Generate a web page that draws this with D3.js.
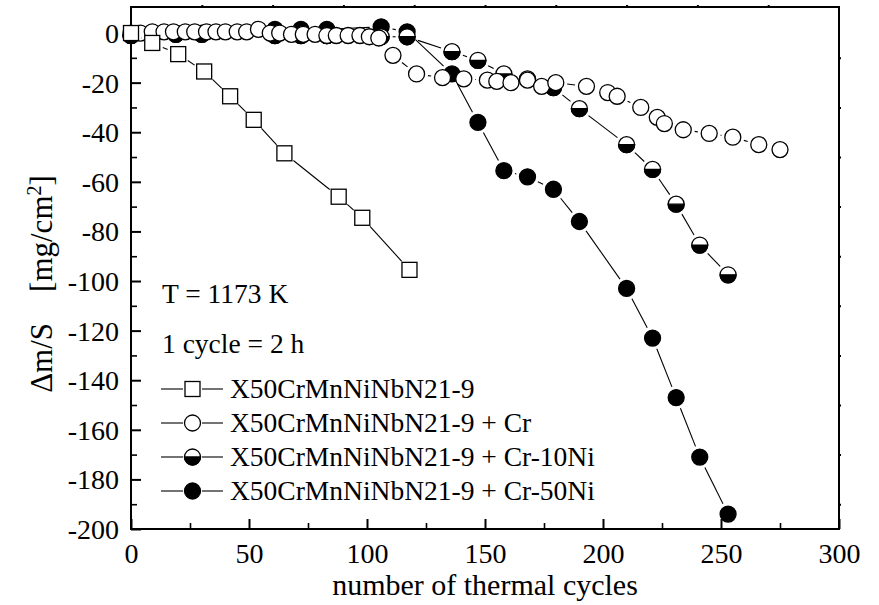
<!DOCTYPE html>
<html>
<head>
<meta charset="utf-8">
<script src="https://cdn.jsdelivr.net/npm/d3@7"></script>
<style>
  html, body { margin: 0; padding: 0; background: #fff; }
  svg { display: block; font-family: "Liberation Serif", "Times New Roman", serif; }
  svg text { font-family: "Liberation Serif", "Times New Roman", serif; fill: #000; }
</style>
</head>
<body>
<svg id="chart" width="879" height="605"></svg>
<script>
// ---------------- data ----------------
const seriesNames = [
  "X50CrMnNiNbN21-9",
  "X50CrMnNiNbN21-9 + Cr",
  "X50CrMnNiNbN21-9 + Cr-10Ni",
  "X50CrMnNiNbN21-9 + Cr-50Ni"
];
// X50CrMnNiNbN21-9 (open squares)
const baseX = [0, 9, 20, 31, 42, 52, 65, 88, 98, 118];
const baseY = [0, -4, -8.5, -15.5, -25.5, -35, -48.5, -66, -74.5, -95.5];
// + Cr (open circles)
const crX = [0, 4, 9, 14, 18, 23, 27, 32, 36, 40, 45, 49, 54, 59, 63, 68, 73, 78, 83, 87, 92, 97, 101, 105,
             111, 121, 132, 141, 151, 155, 161, 168, 174, 180, 193, 202, 206, 216, 223, 226, 234, 245, 255, 266, 275];
const crY = [0, 0, 0.5, 0.5, 0.5, 0.5, 0.5, 0.5, 0.5, 0.5, 0.5, 0.5, 1.5, 0, 0, -0.5, -0.5, -0.5, -1, -1, -1, -1, -1.5, -2,
             -9, -16.5, -18, -18.5, -19, -19.5, -20, -19, -21.5, -20, -21.5, -24, -25.5, -30, -34, -36.5, -39, -40.5, -42, -45, -47];
// + Cr-10Ni (half-filled circles)
const cr10X = [0, 9, 19, 30, 61, 72, 83, 106, 117, 136, 147, 158, 168, 179, 190, 210, 221, 231, 241, 253];
const cr10Y = [-1, -0.5, -0.5, -0.5, -1, -1, -1, -1.5, -1.5, -7.5, -11, -16.5, -18.5, -22, -30.5, -45, -55, -69, -85.5, -97.5];
// + Cr-50Ni (filled circles)
const cr50X = [0, 9, 19, 30, 61, 72, 83, 106, 117, 136, 147, 158, 168, 179, 190, 210, 221, 231, 241, 253];
const cr50Y = [-1, 0, 0, 0, 1.5, 1.5, 1.5, 2.5, 0.5, -16.5, -36, -55.5, -58, -63, -76, -103, -123, -147, -171, -194];

const xMajorTicks = [0, 50, 100, 150, 200, 250, 300];
const xMinorTicks = [25, 75, 125, 175, 225, 275];
const yMajorTicks = [0, -20, -40, -60, -80, -100, -120, -140, -160, -180, -200];
const yMinorTicks = [-10, -30, -50, -70, -90, -110, -130, -150, -170, -190];
const topTicks = [30, 60, 90, 120, 150, 180, 210, 240, 270];
const rightTicks = [-10, -30, -50, -70, -90, -110, -130, -150, -170, -190];
const noteLines = ["T = 1173 K", "1 cycle = 2 h"];
const xTitle = "number of thermal cycles";

// ---------------- layout ----------------
const L = 131, R = 839, T = 7, B = 529;
const svg = d3.select("#chart");
const x = d3.scaleLinear().domain([0, 300]).range([L, R]);
const y = d3.scaleLinear().domain([-200, 10.5]).range([B, T]);

const FS = 28;
const MR = 8;      // marker radius
const TRIM = 11.5; // line gap around markers
const SERIF = "Liberation Serif";

// axes
const gx = svg.append("g").attr("transform", `translate(0,${B})`)
  .call(d3.axisBottom(x).tickValues(xMajorTicks).tickSize(-10).tickPadding(14).tickFormat(d => String(d)));
const gxm = svg.append("g").attr("transform", `translate(0,${B})`)
  .call(d3.axisBottom(x).tickValues(xMinorTicks).tickSize(-6).tickFormat(""));
const gy = svg.append("g").attr("transform", `translate(${L},0)`)
  .call(d3.axisLeft(y).tickValues(yMajorTicks).tickSize(-10).tickPadding(12).tickFormat(d => String(d)));
const gym = svg.append("g").attr("transform", `translate(${L},0)`)
  .call(d3.axisLeft(y).tickValues(yMinorTicks).tickSize(-6).tickFormat(""));
const gt = svg.append("g").attr("transform", `translate(0,${T})`)
  .call(d3.axisTop(x).tickValues(topTicks).tickSize(2).tickFormat(""));
const gr = svg.append("g").attr("transform", `translate(${R},0)`)
  .call(d3.axisRight(y).tickValues(rightTicks).tickSize(2).tickFormat(""));

[gx, gxm, gy, gym, gt, gr].forEach(g => {
  g.attr("font-family", SERIF).attr("font-size", FS);
  g.select(".domain").remove();
  g.selectAll("line").attr("stroke", "#000").attr("stroke-width", 2);
  g.selectAll("text").attr("font-size", FS).attr("font-family", SERIF);
});
gxm.selectAll("line").attr("stroke-width", 1.6);
gym.selectAll("line").attr("stroke-width", 1.6);
gy.selectAll("text").attr("dy", "0.34em");

// frame
svg.append("rect").attr("x", L).attr("y", T).attr("width", R - L).attr("height", B - T)
  .attr("fill", "none").attr("stroke", "#000").attr("stroke-width", 2);

// axis titles
svg.append("text").attr("x", (L + R) / 2).attr("y", 595).attr("text-anchor", "middle")
  .attr("font-family", SERIF).attr("font-size", 30).text(xTitle);

const yt = svg.append("text").attr("transform", "translate(52,284) rotate(-90)")
  .attr("text-anchor", "middle").attr("font-family", SERIF).attr("font-size", 31)
  .attr("xml:space", "preserve").style("white-space", "pre");
yt.append("tspan").text("\u0394m/S\u00A0\u00A0\u00A0\u00A0[mg/cm");
yt.append("tspan").attr("baseline-shift", "super").attr("font-size", 20).text("2");
yt.append("tspan").text("]");

// ---------------- marks ----------------
function zipPts(xs, ys) { return xs.map((v, i) => ({ x: v, y: ys[i] })); }

function drawLines(g, pts, trim) {
  for (let i = 0; i < pts.length - 1; i++) {
    const x1 = x(pts[i].x), y1 = y(pts[i].y), x2 = x(pts[i + 1].x), y2 = y(pts[i + 1].y);
    const dx = x2 - x1, dy = y2 - y1, d = Math.hypot(dx, dy);
    if (d <= 2 * trim) continue;
    const ux = dx / d, uy = dy / d;
    g.append("line")
      .attr("x1", x1 + ux * trim).attr("y1", y1 + uy * trim)
      .attr("x2", x2 - ux * trim).attr("y2", y2 - uy * trim)
      .attr("stroke", "#000").attr("stroke-width", 1.1);
  }
}

function marker(g, type, cx, cy) {
  if (type === "square") {
    g.append("rect").attr("x", cx - 7.5).attr("y", cy - 7.5).attr("width", 15).attr("height", 15)
      .attr("fill", "#fff").attr("stroke", "#000").attr("stroke-width", 1.3);
  } else if (type === "open") {
    g.append("circle").attr("cx", cx).attr("cy", cy).attr("r", MR)
      .attr("fill", "#fff").attr("stroke", "#000").attr("stroke-width", 1.3);
  } else if (type === "half") {
    g.append("circle").attr("cx", cx).attr("cy", cy).attr("r", MR)
      .attr("fill", "#fff").attr("stroke", "#000").attr("stroke-width", 1.3);
    g.append("path")
      .attr("d", `M${cx - MR},${cy} A${MR},${MR} 0 0 0 ${cx + MR},${cy} Z`)
      .attr("fill", "#000").attr("stroke", "#000").attr("stroke-width", 1.3);
  } else {
    g.append("circle").attr("cx", cx).attr("cy", cy).attr("r", MR)
      .attr("fill", "#000").attr("stroke", "#000").attr("stroke-width", 1.3);
  }
}

const series = [
  { pts: zipPts(cr50X, cr50Y), type: "filled" },
  { pts: zipPts(cr10X, cr10Y), type: "half" },
  { pts: zipPts(crX, crY), type: "open" },
  { pts: zipPts(baseX, baseY), type: "square" }
];

const plotG = svg.append("g");
series.forEach(s => {
  const g = plotG.append("g");
  drawLines(g, s.pts, TRIM);
  s.pts.forEach(p => marker(g, s.type, x(p.x), y(p.y)));
});

// ---------------- notes & legend ----------------
svg.append("text").attr("x", 162).attr("y", 303).attr("font-family", SERIF).attr("font-size", 27.5).text(noteLines[0]);
svg.append("text").attr("x", 162).attr("y", 353).attr("font-family", SERIF).attr("font-size", 27.5).text(noteLines[1]);

const legendTypes = ["square", "open", "half", "filled"];
const lg = svg.append("g");
seriesNames.forEach((name, i) => {
  const base = 398 + i * 34;
  const cy = base - 9;
  const cx = 192.5;
  lg.append("line").attr("x1", 161).attr("x2", 183).attr("y1", cy).attr("y2", cy)
    .attr("stroke", "#000").attr("stroke-width", 1.1);
  lg.append("line").attr("x1", 202).attr("x2", 223).attr("y1", cy).attr("y2", cy)
    .attr("stroke", "#000").attr("stroke-width", 1.1);
  marker(lg, legendTypes[i], cx, cy);
  lg.append("text").attr("x", 230).attr("y", base).attr("font-family", SERIF).attr("font-size", 27.5).text(name);
});
</script>
</body>
</html>
